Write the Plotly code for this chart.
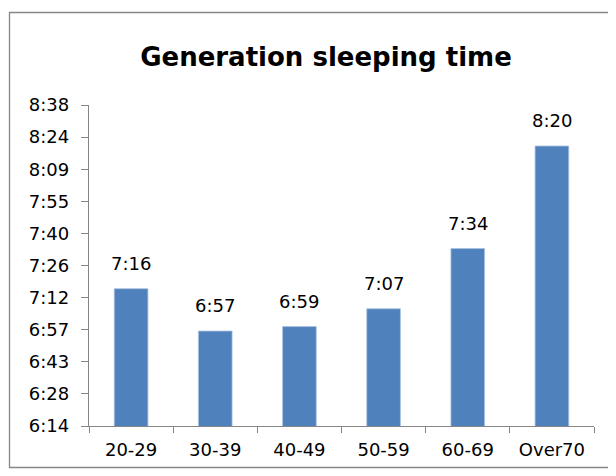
import plotly.graph_objects as go

categories = ["20-29", "30-39", "40-49", "50-59", "60-69", "Over70"]
sleep_minutes = [436, 417, 419, 427, 454, 500]
value_labels = ["7:16", "6:57", "6:59", "7:07", "7:34", "8:20"]
tick_values = [374.4, 388.8, 403.2, 417.6, 432.0, 446.4, 460.8, 475.2, 489.6, 504.0, 518.4]
tick_labels = ["6:14", "6:28", "6:43", "6:57", "7:12", "7:26", "7:40", "7:55", "8:09", "8:24", "8:38"]

# the page body has an 8px margin, so figure pixels = page pixels - 8
OFF = 8
W, H = 616 - OFF, 476 - OFF
L, R, T, B = 89 - OFF, 594 - OFF, 105 - OFF, 426 - OFF  # plot area
FONT = "DejaVu Sans"

def px_x(p):
    return (p - OFF - L) / (R - L)

def px_y(p):
    return (B - (p - OFF)) / (B - T)

fig = go.Figure(go.Bar(
    x=categories,
    y=sleep_minutes,
    marker=dict(color="#4F81BD", line=dict(color="#a9c1e0", width=0.8)),
    hoverinfo="skip",
))

for c, v, t in zip(categories, sleep_minutes, value_labels):
    fig.add_annotation(
        x=c, y=v, text=t, showarrow=False,
        yanchor="bottom", yshift=13,
        font=dict(family=FONT, size=18, color="#000000"),
    )

fig.update_layout(
    width=W, height=H,
    margin=dict(l=L, r=W - R, t=T, b=H - B, pad=0),
    paper_bgcolor="white",
    plot_bgcolor="white",
    bargap=0.6,
    showlegend=False,
    title=dict(
        text="<b>Generation sleeping time</b>",
        font=dict(family=FONT, size=26, color="#000000"),
        x=(326 - OFF) / W, xanchor="center",
        y=1 - (57 - OFF) / H, yanchor="middle",
    ),
    xaxis=dict(
        showline=True, linecolor="#868686", linewidth=1.3,
        ticks="outside", tickson="boundaries", ticklen=6, tickcolor="#868686",
        showgrid=False,
        tickfont=dict(family=FONT, size=18, color="#000000"),
        ticklabelstandoff=7,
    ),
    yaxis=dict(
        range=[tick_values[0], tick_values[-1]],
        tickmode="array", tickvals=tick_values, ticktext=tick_labels,
        showline=True, linecolor="#868686", linewidth=1.3,
        ticks="outside", ticklen=7, tickcolor="#868686",
        showgrid=False, zeroline=False,
        tickfont=dict(family=FONT, size=18, color="#000000"),
        ticklabelstandoff=8,
    ),
    shapes=[dict(
        type="rect", xref="paper", yref="paper",
        x0=px_x(9.5), x1=px_x(609.5), y0=px_y(467.5), y1=px_y(12.5),
        line=dict(color="#868686", width=1.3), fillcolor="rgba(0,0,0,0)",
        layer="below",
    )],
)

fig.write_html("out.html")
